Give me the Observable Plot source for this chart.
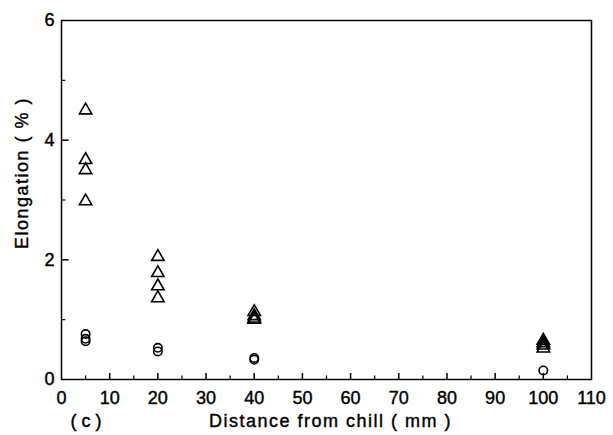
<!DOCTYPE html>
<html>
<head>
<meta charset="utf-8">
<script src="https://cdn.jsdelivr.net/npm/d3@7"></script>
<script src="https://cdn.jsdelivr.net/npm/@observablehq/plot@0.6"></script>
<style>
  html, body { margin: 0; padding: 0; background: #fff; }
  #chart svg { font-family: "Liberation Sans", Arial, sans-serif; }
  #chart svg text { font-size: 18px; fill: #000; stroke: #000; stroke-width: 0.4px; }
  #chart svg .spaced text { letter-spacing: 1.5px; }
</style>
</head>
<body>
<div id="chart"></div>
<script>
// Distance from chill (mm)
const distances = [5, 20, 40, 100];
// Triangle series (elongation %), four samples per distance
const triangleValues = [
  [4.5, 3.67, 3.5, 2.98],
  [2.05, 1.78, 1.56, 1.36],
  [1.13, 1.06, 1.02, 1.0],
  [0.65, 0.61, 0.57, 0.52]
];
// Circle series (elongation %)
const circleValues = [
  [0.76, 0.68, 0.64],
  [0.53, 0.47],
  [0.36, 0.33],
  [0.15]
];
const xTickLabels = [0, 10, 20, 30, 40, 50, 60, 70, 80, 90, 100, 110];
const xMinorTicks = [5, 15, 25, 35, 45, 55, 65, 75, 85, 95, 105];
const yTickLabels = [0, 2, 4, 6];
const yMinorTicks = [1, 3, 5];
const xLabel = "Distance from chill ( mm )";
const yLabel = "Elongation ( % )";
const panelLabel = "( c )";

const triangles = distances.flatMap((d, i) => triangleValues[i].map(v => ({x: d, y: v})));
const circles = distances.flatMap((d, i) => circleValues[i].map(v => ({x: d, y: v})));

const chart = Plot.plot({
  width: 613,
  height: 435,
  marginLeft: 61,
  marginRight: 22,
  marginTop: 20,
  marginBottom: 56,
  style: {background: "#fff", color: "#000"},
  x: {domain: [0, 110]},
  y: {domain: [0, 6]},
  marks: [
    Plot.frame({stroke: "#000", strokeWidth: 1.5}),
    // inward ticks
    Plot.ruleX(xTickLabels.slice(1, -1), {y1: 0, y2: 0.1, stroke: "#000", strokeWidth: 1.5}),
    Plot.ruleX(xMinorTicks, {y1: 0, y2: 0.06, stroke: "#000", strokeWidth: 1.2}),
    Plot.ruleY(yTickLabels.slice(1, -1), {x1: 0, x2: 1.6, stroke: "#000", strokeWidth: 1.5}),
    Plot.ruleY(yMinorTicks, {x1: 0, x2: 0.9, stroke: "#000", strokeWidth: 1.2}),
    Plot.axisX({ticks: xTickLabels, tickSize: 0, tickPadding: 12, tickFormat: "d", label: null}),
    Plot.axisY({ticks: yTickLabels, tickSize: 0, tickPadding: 7, tickFormat: "d", label: null}),
    Plot.text([xLabel], {text: d => d, frameAnchor: "bottom", dx: 4, dy: 47, className: "spaced"}),
    Plot.text([yLabel], {text: d => d, frameAnchor: "left", textAnchor: "middle", dx: -39, dy: -27, rotate: -90, className: "spaced"}),
    Plot.text([panelLabel], {text: d => d, frameAnchor: "bottom-left", dx: 9, dy: 47}),
    Plot.dot(triangles, {x: "x", y: "y", symbol: "triangle", r: 4.6, stroke: "#000", strokeWidth: 1.6, fill: "none"}),
    Plot.dot(circles, {x: "x", y: "y", symbol: "circle", r: 4.2, stroke: "#000", strokeWidth: 1.6, fill: "none"})
  ]
});
document.getElementById("chart").appendChild(chart);
</script>
</body>
</html>
